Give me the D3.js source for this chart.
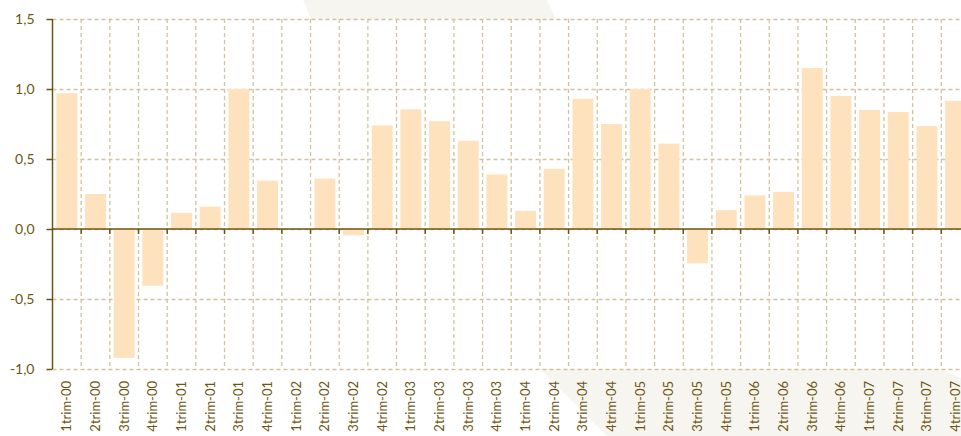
<!DOCTYPE html>
<html><head><meta charset="utf-8">
<script src="https://cdn.jsdelivr.net/npm/d3@7"></script>
<style>
html,body{margin:0;padding:0;background:#fff;overflow:hidden}
svg{display:block}
</style></head>
<body>
<svg id="chart" width="961" height="436"></svg>
<script>
const categories = [
 "1trim-00","2trim-00","3trim-00","4trim-00",
 "1trim-01","2trim-01","3trim-01","4trim-01",
 "1trim-02","2trim-02","3trim-02","4trim-02",
 "1trim-03","2trim-03","3trim-03","4trim-03",
 "1trim-04","2trim-04","3trim-04","4trim-04",
 "1trim-05","2trim-05","3trim-05","4trim-05",
 "1trim-06","2trim-06","3trim-06","4trim-06",
 "1trim-07","2trim-07","3trim-07","4trim-07"];
const values = [
 0.97, 0.25, -0.92, -0.405,
 0.115, 0.16, 1.0, 0.345,
 0.0, 0.36, -0.045, 0.74,
 0.855, 0.77, 0.63, 0.39,
 0.13, 0.43, 0.93, 0.75,
 1.0, 0.61, -0.245, 0.135,
 0.24, 0.265, 1.15, 0.95,
 0.85, 0.835, 0.735, 0.915];
const yTicks = [-1.0, -0.5, 0.0, 0.5, 1.0, 1.5];

const svg = d3.select("#chart");
const W = 961, H = 436;
const pLeft = 52.5, pTop = 19, pBottom = 369;
const step = 28.67;
const x = d3.scaleBand().domain(categories).range([pLeft, pLeft + step * categories.length]).paddingInner(0.27).paddingOuter(0.135);
const y = d3.scaleLinear().domain([-1.0, 1.5]).range([pBottom, pTop]);

const textCol = "#6e5714";
const axisCol = "#6b5414";
const gridCol = "#d2c39e";
const barCol = "#fde2bd";
const wmCol = "#f7f5ef";

// watermark shapes
svg.append("polygon").attr("points", "303,0 547,0 565,40 320,40").attr("fill", wmCol);
svg.append("polygon").attr("points", "540,369 940,369 961,378 961,436 607,436").attr("fill", wmCol);

// plot background
svg.append("rect").attr("x", pLeft).attr("y", pTop).attr("width", W - pLeft).attr("height", pBottom - pTop).attr("fill", "#fff");

const fmt = v => d3.format(".1f")(v).replace(".", ",").replace("−", "-");

// horizontal grid
svg.append("g").selectAll("line").data(yTicks).join("line")
  .attr("x1", pLeft).attr("x2", W)
  .attr("y1", d => Math.round(y(d)) + 0.5).attr("y2", d => Math.round(y(d)) + 0.5)
  .attr("stroke", gridCol).attr("stroke-width", 1.3).attr("stroke-dasharray", "4,3");

// vertical grid at band boundaries
const bounds = categories.map((c, i) => pLeft + step * (i + 1));
svg.append("g").selectAll("line").data(bounds).join("line")
  .attr("x1", d => d).attr("x2", d => d)
  .attr("y1", pTop).attr("y2", pBottom)
  .attr("stroke", gridCol).attr("stroke-width", 1.3).attr("stroke-dasharray", "4,3");

// bars
svg.append("g").selectAll("rect").data(values).join("rect")
  .attr("x", (d, i) => x(categories[i]))
  .attr("width", x.bandwidth())
  .attr("y", d => y(Math.max(0, d)))
  .attr("height", d => Math.abs(y(d) - y(0)))
  .attr("fill", barCol);

// y axis
const yAxis = d3.axisLeft(y).tickValues(yTicks).tickSize(6).tickPadding(12).tickFormat(fmt);
const gy = svg.append("g").attr("transform", `translate(${pLeft},0)`).call(yAxis);
gy.select(".domain").attr("stroke", axisCol).attr("stroke-width", 1.5).attr("d", `M0,${pTop}V${pBottom}`);
gy.selectAll(".tick line").attr("stroke", axisCol).attr("stroke-width", 1.5);
gy.selectAll(".tick text").attr("fill", textCol).style("font-family", "Lato, 'Open Sans', sans-serif").style("font-size", "14px");

// zero line with ticks
const zy = y(0);
svg.append("line").attr("x1", pLeft).attr("x2", W).attr("y1", zy).attr("y2", zy).attr("stroke", axisCol).attr("stroke-width", 1.6);
svg.append("g").selectAll("line").data(bounds).join("line")
  .attr("x1", d => d).attr("x2", d => d).attr("y1", zy).attr("y2", zy + 5)
  .attr("stroke", axisCol).attr("stroke-width", 1.5);

// x labels
svg.append("g").selectAll("text").data(categories).join("text")
  .attr("transform", d => `translate(${x(d) + x.bandwidth() / 2 + 4.5},${pBottom + 12}) rotate(-90)`)
  .attr("text-anchor", "end")
  .attr("fill", textCol)
  .style("font-family", "Lato, 'Open Sans', sans-serif")
  .style("font-size", "13px")
  .text(d => d);
</script>
</body></html>
